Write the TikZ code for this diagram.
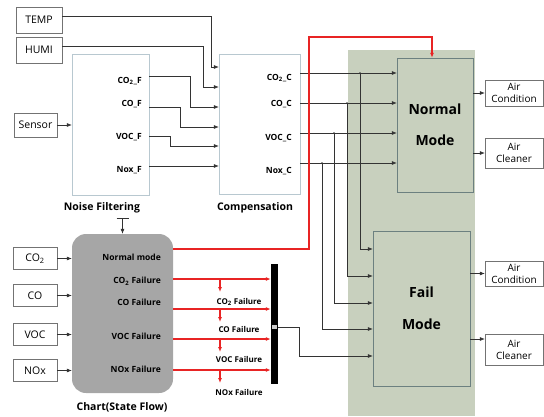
\documentclass[tikz,border=0pt]{standalone}
\usepackage{fontspec}
\setmainfont{Open Sans}
\usetikzlibrary{arrows.meta}
\definecolor{bgreen}{RGB}{200,208,190}
\definecolor{chartgray}{RGB}{166,166,166}
\definecolor{blkline}{RGB}{184,200,208}
\definecolor{sigred}{RGB}{232,36,36}

\begin{document}
\begin{tikzpicture}[x=1pt, y=-1pt, >={Latex[length=5pt,width=4pt]},
  every node/.style={inner sep=1pt},
  inbox/.style={draw=black!55, fill=white, font=\fontsize{10.5}{12}\selectfont, minimum width=44pt, minimum height=22pt},
  blk/.style={draw=blkline, fill=white},
  modebox/.style={draw=gray!85!teal, fill=bgreen, font=\bfseries\fontsize{14}{17}\selectfont, align=center},
  outbox/.style={draw=black!55, fill=white, font=\fontsize{10}{12}\selectfont, align=center, minimum width=58pt, inner sep=0pt},
  port/.style={font=\bfseries\fontsize{8.5}{10}\selectfont, anchor=east},
  flab/.style={font=\bfseries\fontsize{8}{9}\selectfont},
  wire/.style={draw=black!80, line width=0.6pt, ->},
  redwire/.style={draw=sigred, line width=1.1pt, ->},
  caption/.style={font=\bfseries\fontsize{10.5}{12}\selectfont}]
  \useasboundingbox (0,0) rectangle (544,416);
  \fill[bgreen] (348,50) rectangle (475,416);
  \node[inbox, minimum width=46pt, minimum height=26pt] (temp) at (39,20) {TEMP};
  \node[inbox, minimum width=46pt, minimum height=26pt] (humi) at (39,50) {HUMI};
  \node[inbox, minimum width=43pt, minimum height=24pt] (sensor) at (35.5,125) {Sensor};
  \node[blk, minimum width=77pt, minimum height=141pt] (noise) at (110.5,124.5) {};
  \node[blk, minimum width=81pt, minimum height=140pt] (comp) at (259.5,124) {};
  \node[caption] (nflabel) at (102,208) {Noise Filtering};
  \node[caption] (cplabel) at (255,208) {Compensation};
  \foreach \t/\y [count=\i] in {CO\textsubscript{2}\_F/81, CO\_F/104, VOC\_F/137, Nox\_F/170}
    \node[port] (nf\i) at (143,\y) {\t};
  \foreach \t/\y [count=\i] in {CO\textsubscript{2}\_C/78, CO\_C/104, VOC\_C/138, Nox\_C/171}
    \node[port] (cp\i) at (293,\y) {\t};
  \node[modebox, minimum width=76pt, minimum height=134pt] (normal) at (435,125) {Normal\\[14pt]Mode};
  \node[modebox, minimum width=97pt, minimum height=155pt] (fail) at (421.5,308.5) {Fail\\[15pt]Mode};
  \node[outbox, minimum height=26pt] (ac1) at (514,93) {Air\\Condition};
  \node[outbox, minimum height=30pt] (cl1) at (514,153) {Air\\Cleaner};
  \node[outbox, minimum height=25pt] (ac2) at (514,273.5) {Air\\Condition};
  \node[outbox, minimum height=31pt] (cl2) at (514,349.5) {Air\\Cleaner};
  \node[fill=chartgray, rounded corners=14pt, minimum width=101pt, minimum height=159pt] (chart) at (122.5,313.5) {};
  \node[caption] (chlabel) at (122,407) {Chart(State Flow)};
  \foreach \t/\y [count=\i] in {Normal mode/257, CO\textsubscript{2} Failure/281, CO Failure/302, VOC Failure/336, NOx Failure/369}
    \node[port] (st\i) at (162,\y) {\t};
  \node[fill=black, minimum width=7pt, minimum height=120pt, inner sep=0pt] (bus) at (274.5,324) {};
  \fill[gray!40] (272,325) rectangle (277,329);
  \foreach \n/\t/\y in {co2/CO\textsubscript{2}/258.5, co/CO/295.5, voc/VOC/334.5, nox/NOx/370.5} {
    \node[inbox] (in\n) at (35,\y) {\t};
    \draw[wire] (in\n.east) -- (chart.west |- in\n.east);
  }
  \draw[wire] (temp.east |- 0,16) -| (211,67) -- (comp.west |- 0,67);
  \draw[wire] (humi.east |- 0,46) -| (203,87) -- (comp.west |- 0,87);
  \draw[wire] (sensor.east) -- (noise.west |- sensor.east);
  \draw[wire] (noise.east |- 0,76) -| (190,107) -- (comp.west |- 0,107);
  \draw[wire] (noise.east |- 0,107) -| (180,127) -- (comp.west |- 0,127);
  \draw[wire] (noise.east |- 0,136) -| (170,146) -- (comp.west |- 0,146);
  \draw[wire] (noise.east |- 0,166) -- (comp.west |- 0,166);
  \foreach \y/\x/\z in {73/360/249, 103/347/276, 133/334/303, 163/322/329} {
    \draw[wire] (comp.east |- 0,\y) -- (normal.west |- 0,\y);
    \draw[wire] (\x,\y) |- (fail.west |- 0,\z);
    \fill[black!80] (\x,\y) circle (1pt);
  }
  \draw[wire] (bus.east |- 0,327) -| (299,356) -- (fail.west |- 0,356);
  \draw[wire] (normal.east |- ac1) -- (ac1.west);
  \draw[wire] (normal.east |- cl1) -- (cl1.west);
  \draw[wire] (fail.east |- ac2) -- (ac2.west);
  \draw[wire] (fail.east |- 0,339) -- (cl2.west |- 0,339);
  \draw[wire, {Bar[width=12pt]}->] (chart.north |- 0,218) -- (chart.north);
  \draw[redwire] (chart.east |- 0,249) -| (309,37) -| ([xshift=-3pt]normal.north);
  \foreach \y in {279,309,339,370}
    \draw[redwire] (chart.east |- 0,\y) -- (bus.west |- 0,\y);
  \foreach \t/\a/\y [count=\i] in {CO\textsubscript{2} Failure/279/302, CO Failure/309/329, VOC Failure/339/359, NOx Failure/370/392} {
    \node[flab] (fl\i) at (239,\y) {\t};
    \draw[redwire] (220,\a) -- (220,\a+13);
  }
\end{tikzpicture}
\end{document}
